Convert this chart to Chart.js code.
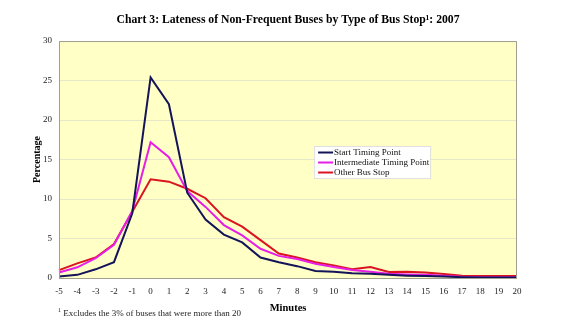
<!DOCTYPE html>
<html>
<head>
<meta charset="utf-8">
<script src="https://cdn.jsdelivr.net/npm/chart.js@4/dist/chart.umd.min.js"></script>
<style>
  body { margin: 0; background: #fff; }
  #wrap { position: relative; width: 566px; height: 325px; }
  #note { position: absolute; left: 58px; top: 307px; font: 9px "Liberation Serif", serif; color: #222; }
  #note sup { font-size: 6px; }
</style>
</head>
<body>
<div id="wrap">
  <canvas id="chart" width="566" height="325"></canvas>
  <div id="note"><sup>1</sup> Excludes the 3% of buses that were more than 20</div>
</div>
<script>
// minutes late
var minutes = [-5, -4, -3, -2, -1, 0, 1, 2, 3, 4, 5, 6, 7, 8, 9, 10, 11, 12, 13, 14, 15, 16, 17, 18, 19, 20];

var startTiming = [0.2, 0.4, 1.1, 2.0, 8.2, 25.4, 22.0, 10.8, 7.4, 5.5, 4.5, 2.6, 2.0, 1.5, 0.9, 0.8, 0.6, 0.55, 0.4, 0.3, 0.25, 0.2, 0.1, 0.05, 0.05, 0.05];
var intermediateTiming = [0.7, 1.35, 2.5, 4.2, 8.5, 17.2, 15.3, 11.0, 9.0, 6.7, 5.4, 3.7, 2.8, 2.4, 1.8, 1.4, 1.0, 0.8, 0.55, 0.45, 0.4, 0.3, 0.15, 0.1, 0.1, 0.1];
var otherStop = [1.0, 1.85, 2.6, 4.3, 8.4, 12.5, 12.2, 11.3, 10.1, 7.7, 6.5, 4.8, 3.1, 2.6, 2.0, 1.6, 1.1, 1.4, 0.75, 0.8, 0.7, 0.5, 0.3, 0.25, 0.25, 0.25];

var seriesNames = ['Start Timing Point', 'Intermediate Timing Point', 'Other Bus Stop'];
var seriesColors = ['#14145a', '#e61ee6', '#da1420'];

const SERIF = '"Liberation Serif", "Times New Roman", serif';

// yellow plot area + grey frame
var plotBackground = {
  id: 'plotBackground',
  beforeDraw(chart) {
    let a = chart.chartArea, ctx = chart.ctx;
    ctx.save();
    ctx.fillStyle = '#ffffc6';
    ctx.fillRect(a.left, a.top, a.right - a.left, a.bottom - a.top);
    ctx.restore();
  },
  afterDraw(chart) {
    let a = chart.chartArea, ctx = chart.ctx;
    ctx.save();
    ctx.strokeStyle = '#a0a090';
    ctx.lineWidth = 1;
    ctx.strokeRect(a.left + 0.5, a.top + 0.5, a.right - a.left - 1, a.bottom - a.top);
    ctx.restore();
  }
};

// legend box floating inside the plot
var boxLegend = {
  id: 'boxLegend',
  afterDraw(chart) {
    let a = chart.chartArea, ctx = chart.ctx;
    let x = a.left + (a.right - a.left) * 0.557;
    let y = a.top + (a.bottom - a.top) * 0.443;
    let w = 116, h = 32;
    ctx.save();
    ctx.fillStyle = '#ffffff';
    ctx.fillRect(x, y, w, h);
    ctx.strokeStyle = '#e0e0e0';
    ctx.strokeRect(x + 0.5, y + 0.5, w, h);
    ctx.font = '9px ' + SERIF;
    ctx.textBaseline = 'middle';
    chart.data.datasets.forEach(function (ds, i) {
      let ry = y + 6.5 + i * 10;
      ctx.strokeStyle = ds.borderColor;
      ctx.lineWidth = 2;
      ctx.beginPath();
      ctx.moveTo(x + 4, ry);
      ctx.lineTo(x + 19, ry);
      ctx.stroke();
      ctx.fillStyle = '#111';
      ctx.fillText(ds.label, x + 20, ry + 0.5);
    });
    ctx.restore();
  }
};

var datasets = [startTiming, intermediateTiming, otherStop].map(function (values, i) {
  return {
    label: seriesNames[i],
    data: values,
    borderColor: seriesColors[i],
    backgroundColor: seriesColors[i],
    borderWidth: 2,
    pointRadius: 0,
    tension: 0,
    fill: false,
    yAxisID: 'y'
  };
});

new Chart('chart', {
  type: 'line',
  data: { labels: minutes, datasets: datasets },
  plugins: [plotBackground, boxLegend],
  options: {
    responsive: false,
    animation: false,
    layout: { padding: { left: 10, right: 0, bottom: 6, top: 0 } },
    plugins: {
      legend: { display: false },
      tooltip: { enabled: false },
      title: {
        display: true,
        text: 'Chart 3: Lateness of Non-Frequent Buses by Type of Bus Stop\u00b9: 2007',
        color: '#000',
        font: { family: SERIF, size: 11.7, weight: 'bold' },
        padding: { top: 13, bottom: 14 }
      }
    },
    scales: {
      x: {
        offset: false,
        grid: { display: false, drawTicks: false },
        border: { display: false },
        ticks: { color: '#222', font: { family: SERIF, size: 9 }, padding: 8, maxRotation: 0, autoSkip: false },
        title: { display: true, text: 'Minutes', color: '#000', font: { family: SERIF, size: 10.5, weight: 'bold' }, padding: { top: 4, bottom: 4 } },
        afterFit(scale) { scale.height = 41; }
      },
      y: {
        min: 0,
        max: 30,
        grid: { color: '#e6e6c8', drawTicks: false },
        border: { display: false },
        ticks: { stepSize: 5, color: '#222', font: { family: SERIF, size: 9 }, padding: 7 },
        title: { display: true, text: 'Percentage', color: '#000', font: { family: SERIF, size: 10, weight: 'bold' }, padding: { top: 21, bottom: 0 } },
        afterFit(scale) { scale.width = 49; }
      },
      // empty right margin so the title centres on the whole page
      yRight: {
        position: 'right',
        grid: { display: false, drawTicks: false },
        border: { display: false },
        ticks: { display: false },
        afterFit(scale) { scale.width = 49; }
      }
    }
  }
});
</script>
</body>
</html>
